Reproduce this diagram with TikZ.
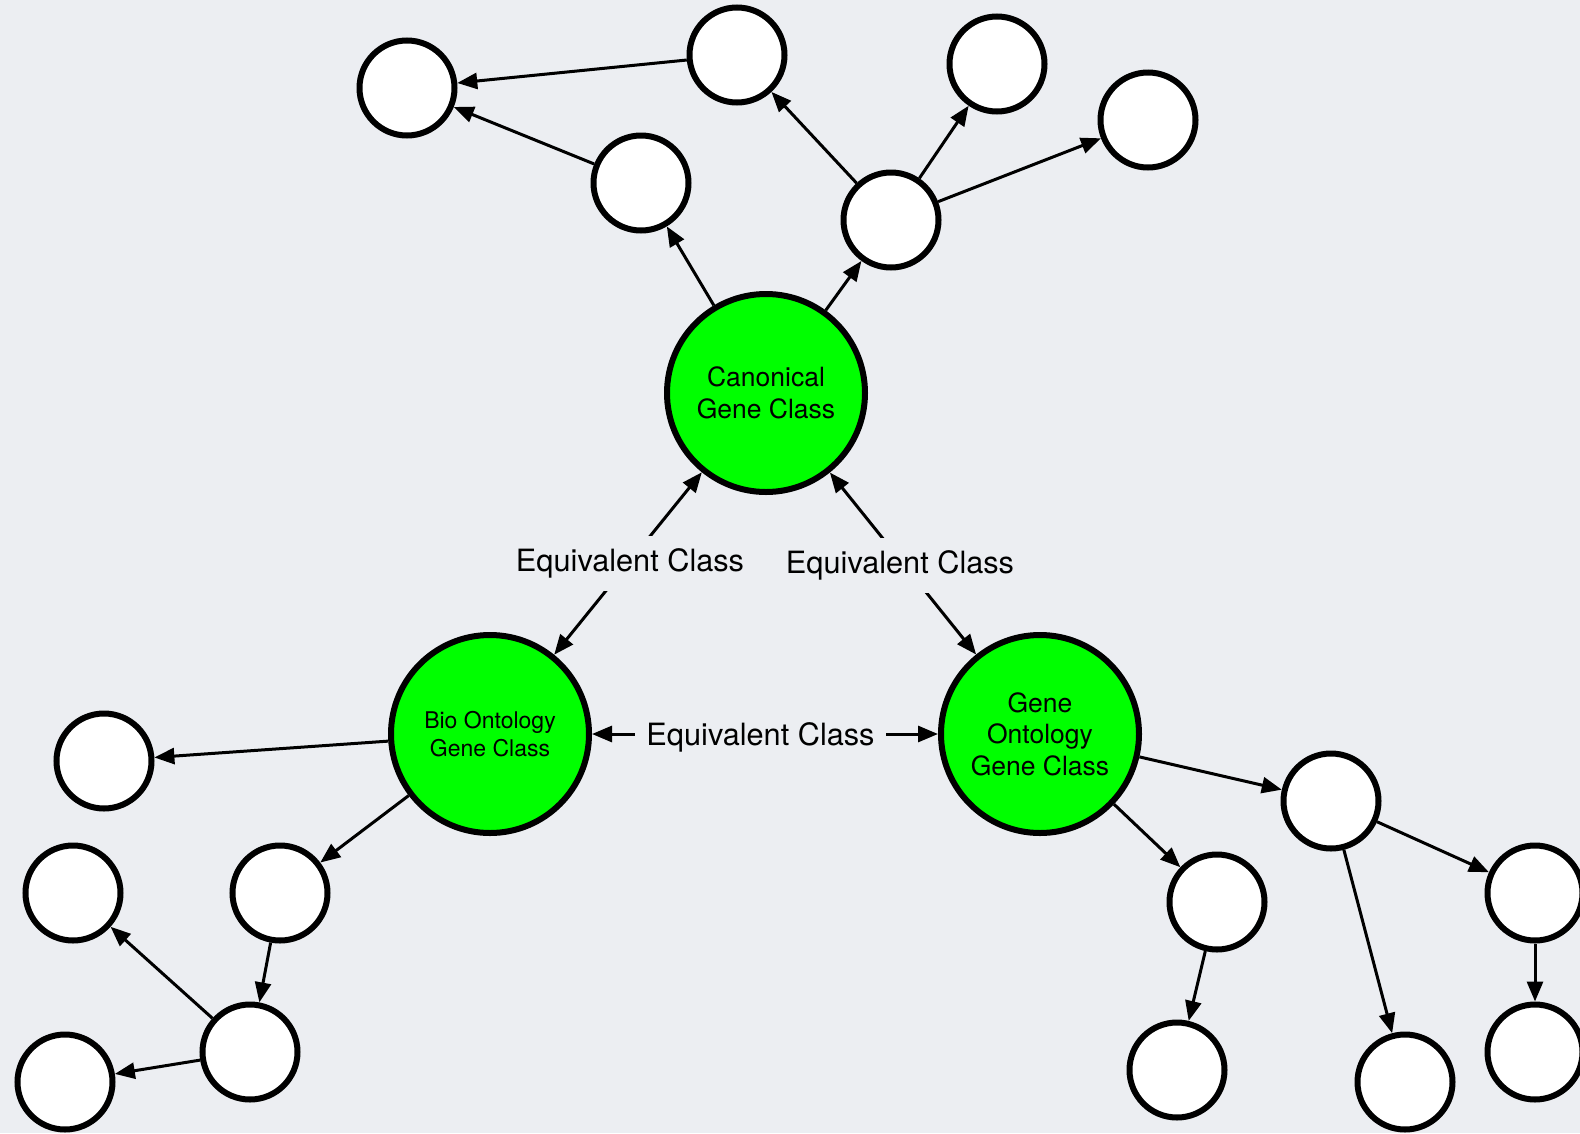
\documentclass[tikz,border=0pt]{standalone}
\usepackage{fontspec}
\setmainfont{TeX Gyre Heros}
\usetikzlibrary{arrows.meta}
\definecolor{bgcol}{RGB}{236,238,242}
\definecolor{classgreen}{RGB}{0,255,0}
\begin{document}
\begin{tikzpicture}[x=1pt,y=-1pt,
  leaf/.style={circle,draw=black,line width=6pt,fill=white,minimum size=95pt,inner sep=0pt},
  classnode/.style={circle,draw=black,line width=6pt,fill=classgreen,minimum size=198pt,inner sep=0pt,align=center},
  link/.style={line width=3pt,-{Triangle[length=20pt,width=16pt]}},
  equiv/.style={line width=3pt,{Triangle[length=20pt,width=16pt]}-{Triangle[length=20pt,width=16pt]}},
  equivlabel/.style={fill=bgcol,inner xsep=11pt,inner ysep=13pt,font=\fontsize{30.7}{36}\selectfont}
]
\fill[bgcol] (0,0) rectangle (1580,1133);
\useasboundingbox (0,0) rectangle (1580,1133);

% the three gene classes
\node[classnode,font=\fontsize{26.5}{31.5}\selectfont] (canon) at (766,393) {Canonical\\Gene Class};
\node[classnode,font=\fontsize{23}{28}\selectfont] (bio) at (490,734) {Bio Ontology\\Gene Class};
\node[classnode,font=\fontsize{26.5}{31.5}\selectfont] (gene) at (1040,734) {Gene\\Ontology\\Gene Class};

% upper subtree
\node[leaf] (a1) at (407,88) {};
\node[leaf] (a2) at (737,55) {};
\node[leaf] (a3) at (641,183) {};
\node[leaf] (a4) at (997,64) {};
\node[leaf] (a5) at (1148,120) {};
\node[leaf] (a6) at (891,220) {};

% left subtree
\node[leaf] (b1) at (104,761) {};
\node[leaf] (b2) at (73,893) {};
\node[leaf] (b3) at (280,893) {};
\node[leaf] (b4) at (250,1052) {};
\node[leaf] (b5) at (65,1082) {};

% right subtree
\node[leaf] (c1) at (1331,801) {};
\node[leaf] (c2) at (1217,902) {};
\node[leaf] (c3) at (1535,893) {};
\node[leaf] (c4) at (1177,1070) {};
\node[leaf] (c5) at (1405,1082) {};
\node[leaf] (c6) at (1535,1052) {};

% equivalences
\draw[equiv] (canon) -- node[equivlabel,xshift=2pt] {Equivalent Class} (bio);
\draw[equiv] (canon) -- node[equivlabel,xshift=-3pt,yshift=-2pt] {Equivalent Class} (gene);
\draw[equiv] (bio) -- node[equivlabel,pos=0.487,yshift=-3pt] {Equivalent Class} (gene);

% hierarchy links
\draw[link] (canon) -- (a3);
\draw[link] (canon) -- (a6);
\draw[link] (a3) -- (a1);
\draw[link] (a2) -- (a1);
\draw[link] (a6) -- (a2);
\draw[link] (a6) -- (a4);
\draw[link] (a6) -- (a5);

\draw[link] (bio) -- (b1);
\draw[link] (bio) -- (b3);
\draw[link] (b3) -- (b4);
\draw[link] (b4) -- (b2);
\draw[link] (b4) -- (b5);

\draw[link] (gene) -- (c1);
\draw[link] (gene) -- (c2);
\draw[link] (c2) -- (c4);
\draw[link] (c1) -- (c3);
\draw[link] (c1) -- (c5);
\draw[link] (c3) -- (c6);
\end{tikzpicture}
\end{document}
